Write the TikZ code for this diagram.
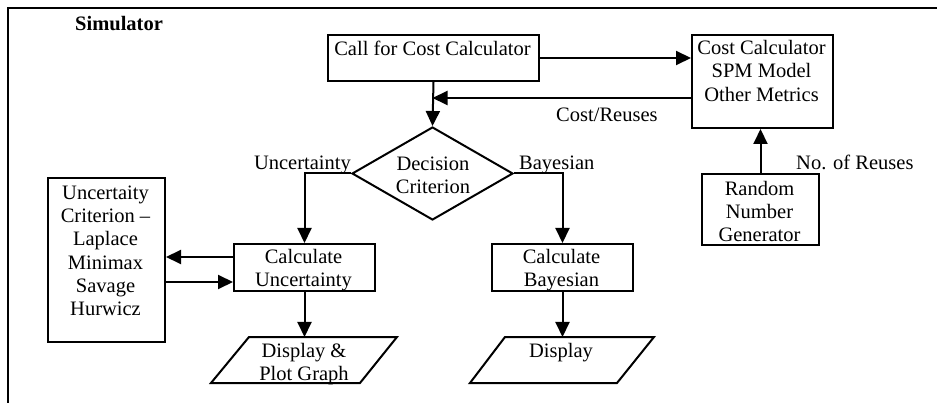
\documentclass[tikz,border=0pt]{standalone}
\usepackage{fontspec}
\setmainfont{Liberation Serif}
\usetikzlibrary{arrows.meta,shapes.geometric}
\tikzset{
  box/.style={draw, line width=2pt, rectangle, inner sep=0pt, anchor=north west},
  txt/.style={inner sep=0pt, align=center, font=\fontsize{20.5}{23.3}\selectfont},
  arr/.style={line width=2pt, -{Triangle[length=15pt,width=14pt]}},
  ln/.style={line width=2pt}
}
\newcommand{\fs}{\rule{0pt}{15pt}}
\begin{document}
\begin{tikzpicture}[x=1pt,y=-1pt]
\useasboundingbox (0,0) rectangle (937,403);
% frame
\draw[line width=2.2pt] (8,403) -- (8,8) -- (937,8);
\node[txt, anchor=base west, font=\fontsize{20.5}{23.3}\selectfont\bfseries] (sim) at (75,31) {Simulator};

% boxes
\node[box, minimum width=211pt, minimum height=46pt] (call) at (327,34) {};
\node[txt, anchor=north] (callt) at (432.5,40) {\fs Call for Cost Calculator};

\node[box, minimum width=141pt, minimum height=93pt] (cost) at (691,34) {};
\node[txt, anchor=north] (costt) at (761.5,39.5) {\fs Cost Calculator\\SPM Model\\Other Metrics};

\node[box, minimum width=117pt, minimum height=71pt] (rng) at (701,173) {};
\node[txt, anchor=north] (rngt) at (759.5,180) {\fs Random\\Number\\Generator};

\node[diamond, draw, line width=2pt, inner sep=0pt, minimum width=161pt, minimum height=93pt] (dec) at (432.5,173.5) {};
\node[txt, anchor=north] (dect) at (433,155) {\fs Decision\\Criterion};

\node[box, minimum width=117pt, minimum height=164pt] (unc) at (47,177) {};
\node[txt, anchor=north] (unct) at (105.5,184) {\fs Uncertaity\\Criterion --\\Laplace\\Minimax\\Savage\\Hurwicz};

\node[box, minimum width=141pt, minimum height=47pt] (cu) at (233,243) {};
\node[txt, anchor=north] (cut) at (303.5,248) {\fs Calculate\\Uncertainty};

\node[box, minimum width=141pt, minimum height=47pt] (cb) at (491,243) {};
\node[txt, anchor=north] (cbt) at (561.5,248) {\fs Calculate\\Bayesian};

% parallelograms
\draw[ln] (249,337) -- (397,337) -- (360,383) -- (211,383) -- cycle;
\coordinate (pg1) at (323,337);
\node[txt, anchor=north] (pg1t) at (304,342) {\fs Display \&\\Plot Graph};

\draw[ln] (505,337) -- (654,337) -- (617,383) -- (470,383) -- cycle;
\coordinate (pg2) at (580,337);
\node[txt, anchor=north] (pg2t) at (561,342) {\fs Display};

% labels
\node[txt, anchor=base east] (lu) at (351,170) {Uncertainty};
\node[txt, anchor=base west] (lb) at (519,170) {Bayesian};
\node[txt, anchor=base west] (lr) at (556,122) {Cost/Reuses};
\node[txt, anchor=base west] (ln) at (796,170) {No. of Reuses};

% connectors
\coordinate (j) at (432.5,98);
\draw[arr] (call.east) -- (call.east -| cost.west);
\draw[arr] (call.south) -- (dec.north);
\draw[arr] (cost.west |- j) -- (j);
\draw[arr] (rng.north) -- (rng.north |- cost.south);
\draw[arr] (dec.west) -| (cu.north);
\draw[arr] (dec.east) -| (cb.north);
\draw[arr] ([yshift=10.5pt]cu.west) -- ([yshift=10.5pt]cu.west -| unc.east);
\draw[arr] ([yshift=-14.5pt]unc.east |- cu.west) -- ([yshift=-14.5pt]cu.west);
\draw[arr] (cu.south) -- (cu.south |- pg1);
\draw[arr] (cb.south) -- (cb.south |- pg2);
\end{tikzpicture}
\end{document}
